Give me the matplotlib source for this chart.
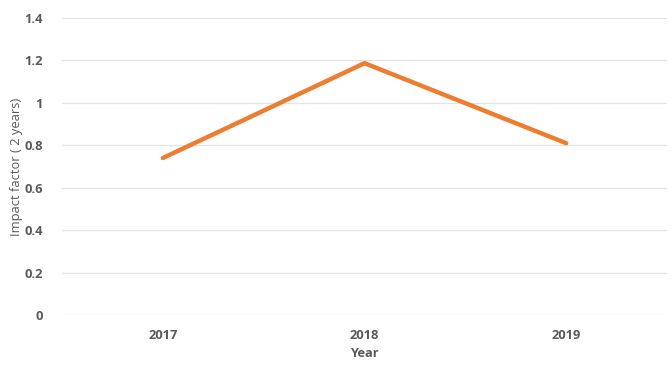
import matplotlib
matplotlib.use("Agg")
import matplotlib.pyplot as plt

years = ["2017", "2018", "2019"]
impact_factor = [0.74, 1.187, 0.81]
y_ticks = [0, 0.2, 0.4, 0.6, 0.8, 1, 1.2, 1.4]
y_tick_labels = ["0", "0.2", "0.4", "0.6", "0.8", "1", "1.2", "1.4"]

plt.rcParams['font.family'] = ['Open Sans', 'DejaVu Sans']
text_color = '#595959'

fig = plt.figure(figsize=(6.72, 3.83), dpi=100)
ax = fig.add_axes([0.0923, 0.1775, 0.9003, 0.7755])

x = list(range(len(years)))
ax.plot(x, impact_factor, color='#ED7D31', linewidth=3.2, solid_capstyle='round',
        solid_joinstyle='miter', zorder=3)

ax.set_xlim(-0.5, len(years) - 0.5)
ax.set_ylim(0, 1.4)
ax.set_yticks(y_ticks)
ax.set_yticklabels(y_tick_labels)
ax.set_xticks(x)
ax.set_xticklabels(years)

for lbl in ax.get_xticklabels() + ax.get_yticklabels():
    lbl.set_fontweight('bold')
    lbl.set_color(text_color)
    lbl.set_fontsize(9.3)

ax.grid(axis='y', color='#e3e3e3', linewidth=0.9)
ax.set_axisbelow(True)
for s in ax.spines.values():
    s.set_visible(False)
ax.tick_params(length=0)
ax.tick_params(axis='y', pad=14)
ax.tick_params(axis='x', pad=10)

ax.set_xlabel("Year", fontsize=9.3, fontweight='bold', color=text_color, labelpad=4)
ax.set_ylabel("Impact factor ( 2 years)", fontsize=9.3, color=text_color, labelpad=1)

fig.savefig("out.png", dpi=100)
